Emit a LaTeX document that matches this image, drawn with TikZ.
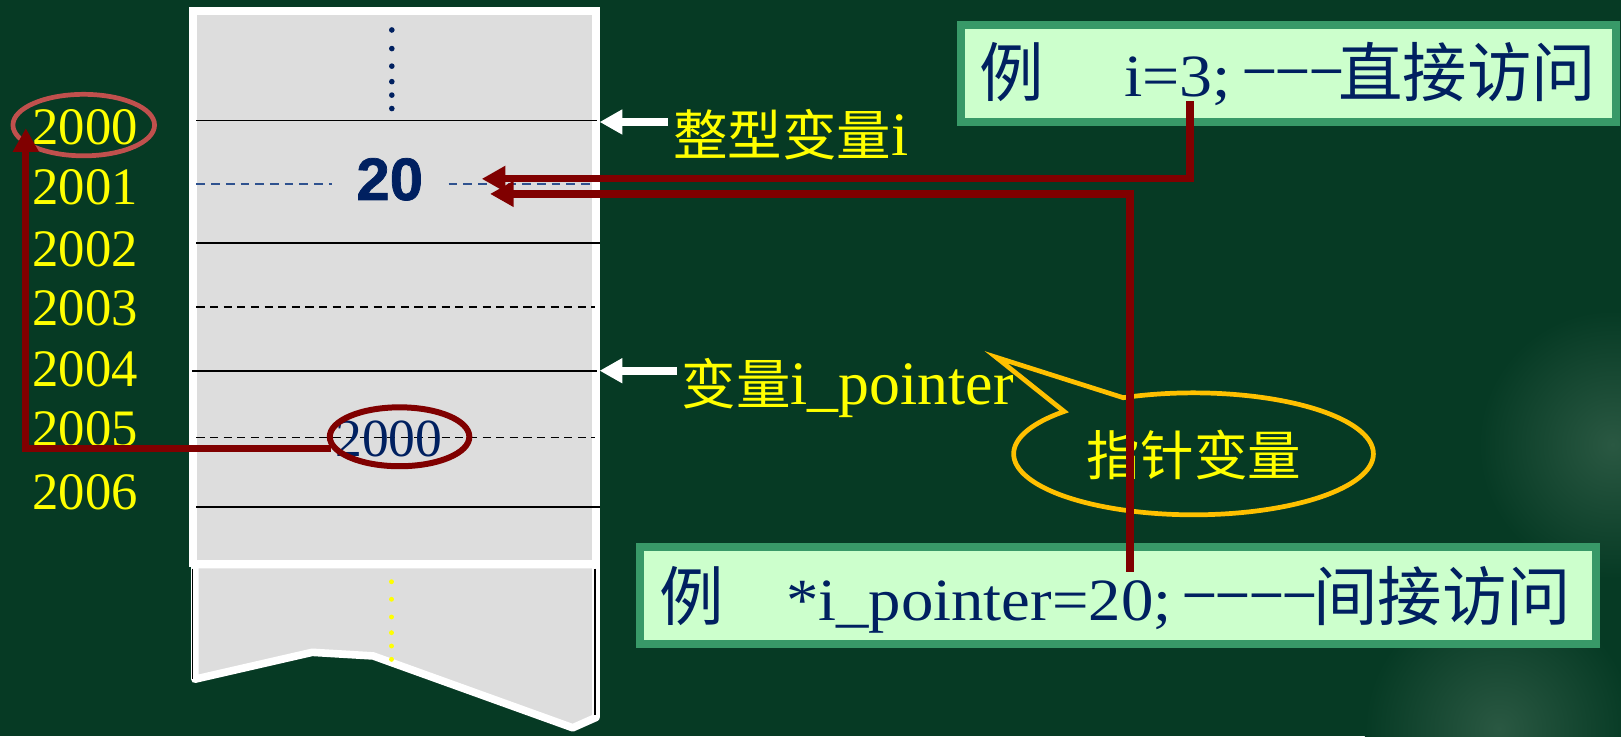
\documentclass[tikz,border=0pt]{standalone}
\usepackage{fontspec}
\setmainfont{Liberation Serif}
\newfontfamily\cjk{Noto Sans CJK SC}
\newfontfamily\sansheavy{Liberation Sans Bold}[FakeBold=1.2]
\usetikzlibrary{arrows.meta,shapes.geometric}
\definecolor{bg}{RGB}{6,58,36}
\definecolor{memgray}{RGB}{221,221,221}
\definecolor{navy}{RGB}{0,32,96}
\definecolor{dashblue}{RGB}{47,82,143}
\definecolor{darkred}{RGB}{128,0,0}
\definecolor{pinkred}{RGB}{192,80,77}
\definecolor{cyellow}{RGB}{255,255,0}
\definecolor{calloutcol}{RGB}{255,192,0}
\definecolor{boxfill}{RGB}{204,255,204}
\definecolor{boxline}{RGB}{56,153,104}
\definecolor{haze}{RGB}{42,88,66}
\newcommand{\dsh}{\raisebox{4.4pt}{\scalebox{0.96}[1.2]{–}}}
\newcommand{\dgap}{\kern2.6pt}
\tikzset{
  addr/.style={anchor=base west, inner sep=0pt, text=cyellow, font=\fontsize{29}{30}\selectfont},
  lab/.style={anchor=base west, inner sep=0pt, text=cyellow, font=\fontsize{34}{36}\selectfont},
  excjk/.style={anchor=base west, inner sep=0pt, text=navy, font=\cjk\fontsize{35.5}{37}\selectfont},
  exlat/.style={anchor=base west, inner sep=0pt, text=navy, font=\fontsize{33}{35}\selectfont},
  exbox/.style={draw=boxline, fill=boxfill, line width=4.5pt, inner sep=0pt},
  solidrow/.style={black, line width=0.8pt},
  dashrow/.style={black, line width=0.8pt, dash pattern=on 4.5pt off 3pt},
  bluedash/.style={dashblue, line width=0.9pt, dash pattern=on 4.8pt off 3.3pt},
  redarrow/.style={darkred, line width=4pt, line join=miter, -{Triangle[length=13pt,width=13.5pt]}},
  whitearrow/.style={white, line width=4.5pt, -{Triangle[length=12.5pt,width=13pt]}},
  redring/.style={ellipse, draw=darkred, line width=3.3pt, inner sep=0pt},
  pinkring/.style={ellipse, draw=pinkred, line width=2.6pt, inner sep=0pt},
}
\begin{document}
\begin{tikzpicture}[x=0.02cm,y=-0.02cm]
\useasboundingbox (0,0) rectangle (1568,712);
\fill[bg] (0,0) rectangle (1568,712);
\shade[inner color=haze, outer color=bg] (1560,430) circle [radius=2.6cm];
\shade[inner color=haze, outer color=bg] (1450,705) circle [radius=2.6cm];
\fill[bg] (0,0) rectangle (1300,712);

% memory column, upper part
\draw[white, line width=4.3pt, fill=memgray] (186.3,10.8) rectangle (576.6,545);
% lower torn part
\draw[white, line width=4.2pt, fill=memgray, line join=round]
  (188.5,546) -- (188.5,657) -- (302,631) -- (361,634.5) -- (554,704) -- (576.5,694) -- (576.5,546) -- cycle;
\draw[black, line width=0.6pt] (186.5,550) -- (186.5,657);
\draw[black, line width=0.6pt] (575.5,550) -- (575.5,692);

% row lines
\draw[solidrow] (190,116.7) -- (577,116.7);
\draw[bluedash] (190,178) -- (321,178);
\draw[bluedash] (434,178) -- (576,178);
\draw[solidrow] (190,235) -- (580,235);
\draw[dashrow] (190,297) -- (576,297);
\draw[solidrow] (186,359) -- (577,359);
\draw[dashrow] (190,423) -- (576,423);
\draw[solidrow] (190,490.6) -- (580,490.6);

% dots
\foreach \y in {29,47,64,79,92,105} \fill[navy] (379,\y) circle [radius=1.55pt];
\foreach \y in {562.7,579.7,596.8,612,624.9,637.8} \fill[cyellow] (378.7,\y) circle [radius=1.35pt];

% values
\node[inner sep=0pt, text=navy, font=\sansheavy\fontsize{33}{34}\selectfont] (v20) at (377,173.5) {20};
\node[anchor=base west, inner sep=0pt, text=navy, font=\fontsize{29.5}{30}\selectfont] (vptr) at (324,442) {2000};
\node[redring, minimum width=2.7cm, minimum height=1.14cm] (eptr) at (386.5,422.5) {};

% addresses
\foreach \a/\y in {2000/140,2001/198,2002/258,2003/315,2004/374,2005/432,2006/493}
  \node[addr] (a\a) at (31,\y) {\a};
\node[pinkring, minimum width=2.74cm, minimum height=1.19cm] (e2000) at (81,121) {};

% labels with white arrows
\node[lab] (lint) at (651,150) {{\cjk\fontsize{30}{32}\selectfont 整型变量}i};
\node[lab] (lptr) at (659,391) {{\cjk\fontsize{30}{32}\selectfont 变量}i\_pointer};
\coordinate (wa1s) at (646,118);
\coordinate (wa1t) at (580,118);
\coordinate (wa2s) at (655,358.6);
\coordinate (wa2t) at (580,358.6);
\draw[whitearrow] (wa1s) -- (wa1t);
\draw[whitearrow] (wa2s) -- (wa2t);

% callout
\draw[calloutcol, line width=2.6pt, line join=miter] (963.6,345.6) --
  plot[domain=136:473, samples=150, variable=\t] ({1154.5+174*cos(\t)},{439-59*sin(\t)}) -- cycle;
\node[inner sep=0pt, text=cyellow, font=\cjk\fontsize{29.5}{30}\selectfont] (cl) at (1155,440.5) {指针变量};

% example boxes
\node[exbox, minimum width=12.668cm, minimum height=1.88cm] (ex1) at (1246.3,71) {};
\node[excjk] (ex1a) at (947,93.5) {例};
\node[exlat] (ex1b) at (1087,93.5) {\scalebox{1.1}[1]{i=3;}};
\node[exlat] (ex1c) at (1204,93.5) {\dsh\dgap\dsh\dgap\dsh};
\node[excjk] (ex1d) at (1294,93.5) {直接访问};

\node[exbox, minimum width=18.5cm, minimum height=1.88cm] (ex2) at (1081.5,576) {};
\node[excjk] (ex2a) at (637.5,600) {例};
\node[exlat] (ex2b) at (760,600) {\scalebox{1.08}[1]{*i\_pointer=20;}};
\node[exlat] (ex2c) at (1146,600) {\dsh\dgap\dsh\dgap\dsh\dgap\dsh};
\node[excjk] (ex2d) at (1270,600) {间接访问};

% red access arrows
\coordinate (d3) at (1151,98);
\coordinate (tipA) at (466,173);
\coordinate (dp) at (1093,553);
\coordinate (tipB) at (474,187.6);
\draw[redarrow] (d3) |- (tipA);
\draw[redarrow] (dp) |- (tipB);
\coordinate (ps) at (320,434);
\coordinate (pt) at (25,124);
\draw[redarrow] (ps) -| (pt);
\end{tikzpicture}
\end{document}
